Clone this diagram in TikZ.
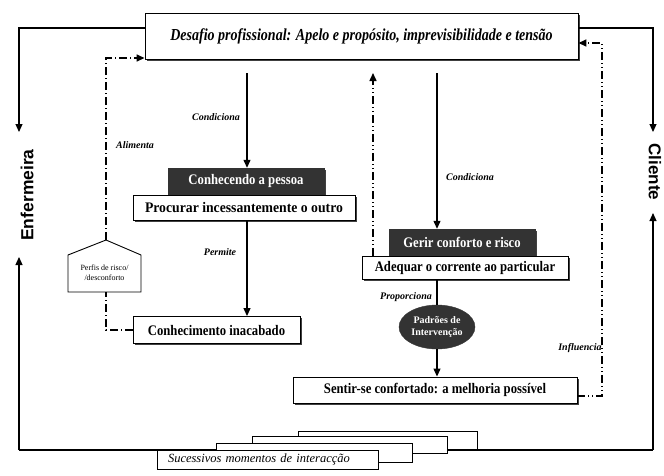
\documentclass[tikz,border=0pt]{standalone}
\usepackage{fontspec}
\setmainfont{Liberation Serif}
\newfontfamily\hsans{Liberation Sans}
\usepackage{graphicx}
\usetikzlibrary{arrows.meta,shadows,shapes.geometric,calc}
\newcommand\bxt[1]{\scalebox{1}[1.15]{\fontsize{12.7}{14}\selectfont\bfseries #1}}
\tikzset{
  shad/.style={drop shadow={shadow xshift=1.6pt,shadow yshift=-1.6pt,fill=black!75,opacity=1}},
  wbox/.style={draw, line width=0.9pt, fill=white, inner sep=0pt, shad},
  dbox/.style={draw=black!80, fill=black!80, text=white, inner sep=0pt, shad},
  lbl/.style={font=\fontsize{10}{11}\selectfont\bfseries\itshape, inner sep=1pt},
  ahead/.style={-{Triangle[length=8pt,width=7pt]}},
  arr/.style={line width=1.2pt, ahead},
  ddot/.style={line width=1.5pt, dash pattern=on 8pt off 3pt on 1pt off 3pt on 1pt off 3pt},
  dd1/.style={line width=1.5pt, dash pattern=on 8pt off 3pt on 1pt off 3pt},
  outer/.style={line width=1.1pt},
  sbox/.style={draw, line width=0.8pt, fill=white, inner sep=0pt, drop shadow={shadow xshift=1pt,shadow yshift=-1pt,fill=black!70,opacity=1}},
}
\begin{document}
\begin{tikzpicture}[x=1pt,y=-1pt]
\useasboundingbox (0,0) rectangle (664,475);

% outer frame
\coordinate (L1) at (19,28);
\coordinate (L2) at (19,132);
\coordinate (L3) at (19,257);
\coordinate (LB) at (19,450);
\coordinate (R1) at (653,28);
\coordinate (R2) at (653,132);
\coordinate (R3) at (653,213);
\coordinate (RB) at (653,450);
\draw[outer] (LB) -- (RB);

% top box
\node[wbox, minimum width=433pt, minimum height=46pt] (top) at (361.5,36)
  {\scalebox{1}[1.2]{\fontsize{14}{16}\selectfont\bfseries\itshape Desafio profissional: Apelo e propósito, imprevisibilidade e tensão}};

\draw[outer, ahead] (top.west |- L1) -- (L1) -- (L2);
\draw[outer, ahead] (LB) -- (L3);
\draw[outer, ahead] (top.east |- R1) -- (R1) -- (R2);
\draw[outer, ahead] (RB) -- (R3);

\node[rotate=90, font=\hsans\fontsize{17.5}{18}\selectfont\bfseries] (enf) at (27,195) {Enfermeira};
\node[rotate=-90, font=\hsans\fontsize{17}{18}\selectfont\bfseries] (cli) at (655,172) {Cliente};

% left column
\node[dbox, minimum width=156pt, minimum height=26pt] (conh) at (246,181) {\bxt{Conhecendo a pessoa}};
\node[wbox, minimum width=222pt, minimum height=25pt] (proc) at (244,207.5) {\bxt{\scalebox{1.08}[1]{Procurar incessantemente o outro}}};
\node[wbox, minimum width=167pt, minimum height=27pt] (inac) at (216.5,330) {\bxt{Conhecimento inacabado}};

% right column
\node[dbox, minimum width=146pt, minimum height=27pt] (gerir) at (462,242.5) {\bxt{Gerir conforto e risco}};
\node[wbox, minimum width=206pt, minimum height=23pt] (adeq) at (465,267.5) {\bxt{Adequar o corrente ao particular}};
\node[ellipse, draw=black!80, fill=black!80, text=white, minimum width=76pt, minimum height=44pt, inner sep=0pt, align=center, font=\fontsize{10}{12}\selectfont\bfseries] (ell) at (437,327) {Padrões de\\Intervenção};
\node[wbox, minimum width=284pt, minimum height=26pt] (sent) at (435,390) {\bxt{Sentir-se confortado: a melhoria possível}};

% pentagon
\draw[line width=0.9pt, fill=white] (68,255) -- (106,240) -- (141,255) -- (141,292) -- (68,292) -- cycle;
\coordinate (perfTop) at (106,240);
\coordinate (perfBot) at (106,292);
\node[align=center, font=\fontsize{8}{10}\selectfont, inner sep=0pt] (perf) at (104.5,273) {Perfis de risco/\\/desconforto};

% connectors
\coordinate (c1) at (247,73);
\coordinate (c2) at (437,73);
\coordinate (c3) at (373,73);
\coordinate (iR) at (602,43);
\coordinate (aT) at (106,58);

\draw[arr] (c1) -- (c1 |- conh.north);
\node[lbl] (l1) at (216,117) {Condiciona};
\draw[arr] (c1 |- proc.south) -- (c1 |- inac.north);
\node[lbl] (l2) at (220,252) {Permite};
\draw[arr] (c2) -- (c2 |- gerir.north);
\node[lbl] (l3) at (470,177) {Condiciona};
\draw[ddot, ahead] (c3 |- adeq.north) -- (c3);
\draw[line width=1.2pt] (ell.north |- adeq.south) -- (ell.north);
\node[lbl] (l4) at (406,297) {Proporciona};
\draw[arr] (ell.south) -- (ell.south |- sent.north);
\draw[ddot, ahead] ([yshift=-6pt]sent.east) -| (iR) -- (iR -| top.east);
\node[lbl] (l5) at (580,348) {Influencia};
\draw[dd1, ahead] (perfTop) -- (aT) -- (aT -| top.west);
\node[lbl] (l6) at (135,145) {Alimenta};
\draw[dd1] (inac.west) -| (perfBot);

% stack of moments
\node[sbox, minimum width=179pt, minimum height=18pt] (s4) at (387.5,440) {};
\node[sbox, minimum width=195pt, minimum height=17pt] (s3) at (349.5,444.5) {};
\node[sbox, minimum width=196pt, minimum height=19pt] (s2) at (314,452.5) {};
\node[sbox, minimum width=221pt, minimum height=19pt, text width=199pt, align=left, inner xsep=0pt, font=\fontsize{12.5}{14}\selectfont\itshape] (s1) at (267.5,459.5) {Sucessivos momentos de interacção};
\end{tikzpicture}
\end{document}
